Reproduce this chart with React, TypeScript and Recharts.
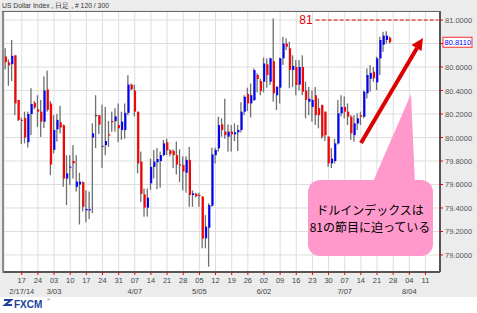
import React from "react";
import {
  ComposedChart,
  Bar,
  XAxis,
  YAxis,
  CartesianGrid,
  ReferenceLine,
} from "recharts";

// US Dollar Index, daily candles (FXCM)
const opens = [
  80.69, 80.64, 80.625, 80.70, 80.32, 80.15, 80.165, 79.96, 80.20, 80.295,
  80.24, 80.22, 80.135, 80.41, 80.29, 79.895, 80.07, 80.13, 80.105, 79.65,
  79.75, 79.80, 79.58, 79.60, 79.62, 79.38, 79.38, 80.00, 80.19, 80.19,
  79.93, 79.935, 80.027, 80.14, 80.14, 80.106, 80.064, 80.064, 80.21, 80.45,
  80.40, 80.22, 79.795, 79.516, 79.403, 79.61, 79.75, 79.79, 79.80, 79.85,
  79.96, 79.89, 79.885, 79.85, 79.77, 79.766, 79.70, 79.81, 79.51, 79.52,
  79.51, 79.497, 79.142, 79.232, 79.42, 79.85, 79.908, 80.112, 80.05, 80.007,
  80.05, 80.027, 80.044, 80.064, 80.22, 80.37, 80.29, 80.319, 80.532, 80.48,
  80.475, 80.623, 80.475, 80.65, 80.36, 80.424, 80.674, 80.80, 80.76, 80.575,
  80.60, 80.45, 80.60, 80.40, 80.305, 80.26, 80.36, 80.25, 80.277, 80.22,
  80.007, 79.78, 79.80, 79.95, 80.206, 80.26, 80.22, 80.177, 80.02, 80.12,
  80.19, 80.177, 80.376, 80.50, 80.56, 80.47, 80.674, 80.79, 80.83, 80.85,
];
const highs = [
  80.76, 80.665, 80.83, 80.70, 80.32, 80.17, 80.22, 80.22, 80.42, 80.31,
  80.36, 80.32, 80.52, 80.57, 80.31, 80.19, 80.20, 80.27, 80.11, 79.85,
  79.85, 79.935, 79.85, 79.70, 79.625, 79.55, 79.54, 80.12, 80.36, 80.19,
  80.28, 80.26, 80.14, 80.22, 80.25, 80.29, 80.22, 80.29, 80.53, 80.46,
  80.45, 80.22, 79.88, 79.566, 79.566, 79.82, 79.894, 79.91, 79.88, 79.98,
  79.99, 79.90, 79.90, 79.965, 79.90, 79.84, 79.84, 79.92, 79.55, 79.53,
  79.53, 79.50, 79.34, 79.44, 79.913, 79.913, 80.177, 80.163, 80.33, 80.112,
  80.106, 80.12, 80.106, 80.30, 80.36, 80.424, 80.46, 80.589, 80.546, 80.50,
  80.68, 80.674, 80.68, 81.014, 80.433, 80.68, 80.858, 80.844, 80.815, 80.70,
  80.66, 80.66, 80.70, 80.475, 80.43, 80.40, 80.43, 80.333, 80.28, 80.22,
  80.01, 79.91, 79.99, 80.32, 80.36, 80.35, 80.29, 80.19, 80.19, 80.206,
  80.22, 80.40, 80.589, 80.617, 80.60, 80.688, 80.858, 80.90, 80.905, 80.86,
];
const lows = [
  80.58, 80.44, 80.48, 80.19, 80.14, 79.945, 79.95, 79.915, 80.02, 80.24,
  80.09, 80.005, 80.08, 80.22, 79.68, 79.865, 79.965, 80.035, 79.58, 79.425,
  79.595, 79.65, 79.54, 79.26, 79.37, 79.28, 79.305, 79.355, 79.91, 80.03,
  79.74, 79.85, 79.92, 80.05, 80.05, 79.96, 79.98, 79.99, 80.19, 80.40,
  80.18, 79.695, 79.45, 79.326, 79.326, 79.555, 79.652, 79.56, 79.573, 79.84,
  79.85, 79.84, 79.74, 79.685, 79.62, 79.55, 79.53, 79.41, 79.41, 79.49,
  79.41, 79.057, 79.057, 78.90, 79.41, 79.78, 79.88, 80.007, 79.99, 79.88,
  79.88, 79.97, 79.885, 80.044, 80.19, 80.226, 80.17, 80.31, 80.385, 80.36,
  80.385, 80.424, 80.447, 80.305, 80.234, 80.29, 80.617, 80.745, 80.42, 80.43,
  80.36, 80.40, 80.36, 80.163, 80.19, 80.135, 80.106, 80.078, 79.99, 79.97,
  79.75, 79.74, 79.78, 79.94, 80.18, 80.163, 80.106, 79.98, 79.964, 80.064,
  80.106, 80.163, 80.333, 80.39, 80.475, 80.404, 80.532, 80.73, 80.80, 80.80,
];
const closes = [
  80.64, 80.615, 80.695, 80.29, 80.15, 80.145, 80.00, 80.20, 80.285, 80.255,
  80.22, 80.135, 80.40, 80.235, 79.77, 80.065, 80.15, 80.085, 79.65, 79.695,
  79.752, 79.78, 79.625, 79.625, 79.41, 79.392, 79.39, 80.035, 80.19, 80.11,
  79.93, 79.97, 80.016, 80.13, 80.18, 80.078, 80.135, 80.21, 80.45, 80.41,
  80.22, 79.78, 79.52, 79.403, 79.488, 79.75, 79.795, 79.817, 79.85, 79.95,
  79.89, 79.86, 79.85, 79.77, 79.765, 79.71, 79.81, 79.51, 79.525, 79.50,
  79.505, 79.14, 79.241, 79.425, 79.856, 79.894, 80.106, 80.064, 80.02, 80.05,
  80.027, 80.044, 80.064, 80.22, 80.347, 80.29, 80.36, 80.574, 80.498, 80.396,
  80.63, 80.532, 80.674, 80.376, 80.433, 80.674, 80.80, 80.773, 80.575, 80.61,
  80.447, 80.60, 80.39, 80.32, 80.33, 80.32, 80.19, 80.19, 80.007, 80.02,
  79.78, 79.82, 79.95, 80.206, 80.26, 80.22, 80.177, 80.035, 80.12, 80.163,
  80.177, 80.39, 80.532, 80.55, 80.504, 80.674, 80.83, 80.867, 80.867, 80.811,
];

const firstDay = "2014-02-10";
const blankDays = 15; // axis runs on past the last candle (8/04, 8/11)
const priceTicks = [79.0, 79.2, 79.4, 79.6, 79.8, 80.0, 80.2, 80.4, 80.6, 80.8, 81.0];
const lastPrice = 80.811;
const level = 81;
const monthLabels: Record<string, string> = {
  "2014-02-17": "2/17/14",
  "2014-03-03": "3/03",
  "2014-04-07": "4/07",
  "2014-05-05": "5/05",
  "2014-06-02": "6/02",
  "2014-07-07": "7/07",
  "2014-08-04": "8/04",
};

function tradingDays(start: string, n: number) {
  const out: string[] = [];
  const d = new Date(start + "T00:00:00Z");
  while (out.length < n) {
    const wd = d.getUTCDay();
    if (wd !== 0 && wd !== 6) out.push(d.toISOString().slice(0, 10));
    d.setUTCDate(d.getUTCDate() + 1);
  }
  return out;
}

const dates = tradingDays(firstDay, opens.length + blankDays);
const weekTicks = dates.filter(
  (d, i) => i > 0 && new Date(d + "T00:00:00Z").getUTCDay() === 1
);

const data = dates.map((date, i) => ({
  date,
  open: i < opens.length ? opens[i] : null,
  high: i < opens.length ? highs[i] : null,
  low: i < opens.length ? lows[i] : null,
  close: i < opens.length ? closes[i] : null,
}));

const font = "'Liberation Sans', Arial, sans-serif";

const Candle = (props: any) => {
  const { x, y, width, height, payload } = props;
  if (!payload || payload.open == null) return null;
  const top = Math.min(y, y + height);
  const h = Math.abs(height);
  const span = payload.high - payload.low;
  const k = span > 0 ? h / span : 0;
  const py = (v: number) => top + (payload.high - v) * k;
  const cx = x + width / 2;
  const bTop = py(Math.max(payload.open, payload.close));
  const bBot = py(Math.min(payload.open, payload.close));
  let color = "#222";
  if (payload.close > payload.open) color = "#0000ff";
  if (payload.close < payload.open) color = "#ff0000";
  return (
    <g>
      <rect x={cx - 1} y={top} width={1.3} height={Math.max(h, 1)} fill="#707070" />
      <rect x={cx - 0.6} y={bTop} width={2} height={Math.max(bBot - bTop, 1)} fill={color} />
    </g>
  );
};

const DateTick = (props: any) => {
  const { x, y, payload } = props;
  const d: string = payload.value;
  const month = monthLabels[d];
  return (
    <g>
      <text x={x} y={y + 6} textAnchor="middle" fontSize={7.5} fill="#444" fontFamily={font}>
        {d.slice(8)}
      </text>
      {month && (
        <text x={x} y={y + 17} textAnchor="middle" fontSize={7.5} fill="#444" fontFamily={font}>
          {month}
        </text>
      )}
    </g>
  );
};

const PriceTick = (props: any) => {
  const { x, y, payload } = props;
  if (Math.abs(payload.value - 80.8) < 1e-6) return null;
  return (
    <text x={x} y={y + 3} fontSize={7.5} fill="#555" fontFamily={font}>
      {payload.value.toFixed(4)}
    </text>
  );
};

const LastPriceTag = (props: any) => {
  const { viewBox } = props;
  const x = viewBox.x + viewBox.width + 3;
  const y = viewBox.y;
  return (
    <g>
      <rect x={x} y={y - 5} width={29} height={10} fill="#fff" stroke="#ff3030" strokeWidth={1} />
      <text x={x + 1.5} y={y + 3} fontSize={7.5} fill="#0000ff" fontFamily={font}>
        {lastPrice.toFixed(4)}
      </text>
    </g>
  );
};

const LevelLabel = (props: any) => {
  const { viewBox } = props;
  return (
    <text x={viewBox.x - 3} y={viewBox.y + 4} textAnchor="end" fontSize={12} fill="#e00000" fontFamily={font}>
      {level}
    </text>
  );
};

export default function App() {
  return (
    <div
      style={{
        position: "relative",
        width: 477,
        height: 313,
        background: "#fff",
        overflow: "hidden",
        fontFamily: font,
      }}
    >
      <style>{"body{margin:0}"}</style>
      <div style={{ position: "absolute", left: 0, top: 0, width: 477, height: 297, background: "#ececec" }} />
      <div style={{ position: "absolute", left: 0, top: 0 }}>
        <ComposedChart
          width={477}
          height={313}
          data={data}
          margin={{ top: 11, right: 0, bottom: 0, left: 4 }}
        >
          <CartesianGrid stroke="#dedede" fill="#fff" />
          <XAxis
            dataKey="date"
            ticks={weekTicks}
            interval={0}
            height={41}
            tickSize={3}
            tickMargin={2}
            tickLine={{ stroke: "#ee0000" }}
            axisLine={{ stroke: "#555", strokeWidth: 2 }}
            tick={<DateTick />}
          />
          <YAxis
            orientation="right"
            type="number"
            domain={[78.855, 81.077]}
            allowDataOverflow
            ticks={priceTicks}
            interval={0}
            width={37}
            tickSize={3}
            tickMargin={2}
            tickLine={{ stroke: "#ee0000" }}
            axisLine={{ stroke: "#555", strokeWidth: 2 }}
            tick={<PriceTick />}
          />
          <Bar
            dataKey={(d: any) => (d.open == null ? null : [d.low, d.high])}
            barSize={3}
            shape={<Candle />}
            isAnimationActive={false}
          />
          <ReferenceLine
            segment={[
              { x: dates[96], y: level },
              { x: dates[dates.length - 1], y: level },
            ]}
            stroke="#e00000"
            strokeDasharray="4 2"
            label={<LevelLabel />}
          />
          <ReferenceLine y={lastPrice} stroke="none" label={<LastPriceTag />} />
        </ComposedChart>
      </div>
      <svg
        width={477}
        height={313}
        style={{ position: "absolute", left: 0, top: 0, pointerEvents: "none" }}
      >
        <text x={2} y={8} fontSize={6.8} fill="#333" fontFamily={font}>
          US Dollar Index , 日足 , # 120 / 300
        </text>
        <rect x={2} y={11} width={2} height={262} fill="#8a8a8a" />
        <line x1={2} y1={11.5} x2={441} y2={11.5} stroke="#666" />
        <line x1={361} y1={143} x2={417} y2={48} stroke="#dd0000" strokeWidth={4} />
        <polygon points="423,38 411.5,45 421.5,51" fill="#dd0000" />
        <polygon points="411,94 372,184 415,184" fill="#ff99cc" />
        <rect x={308} y={180} width={125} height={76} rx={12} fill="#ff99cc" />
        <text
          x={370}
          y={215}
          textAnchor="middle"
          fontSize={12}
          fill="#000"
          fontFamily="'Noto Sans CJK JP', sans-serif"
        >
          ドルインデックスは
        </text>
        <text
          x={370}
          y={232}
          textAnchor="middle"
          fontSize={12}
          fill="#000"
          fontFamily="'Noto Sans CJK JP', sans-serif"
        >
          81の節目に迫っている
        </text>
        <path d="M4 300 h7 l-6 5 h7" stroke="#1d3f9f" strokeWidth={2} fill="none" />
        <text x={14} y={308} fontSize={10} fontWeight="bold" fill="#1d3f9f" fontFamily={font}>
          FXCM
        </text>
        <text x={47} y={301} fontSize={4} fill="#1d3f9f" fontFamily={font}>
          ®
        </text>
      </svg>
    </div>
  );
}
